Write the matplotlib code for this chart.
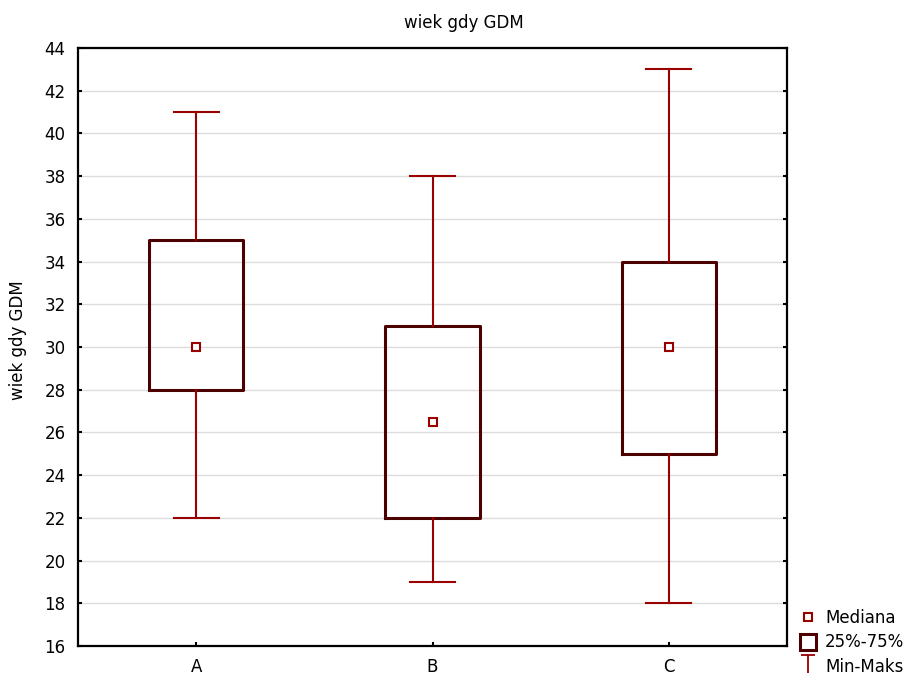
import matplotlib
matplotlib.use("Agg")
import matplotlib.pyplot as plt
from matplotlib.lines import Line2D
from matplotlib.path import Path

plt.rcParams['font.family'] = ['DejaVu Sans']

# dane
grupy = ['A', 'B', 'C']
minima = [22, 19, 18]
q1 = [28, 22, 25]
mediany = [30, 26.5, 30]
q3 = [35, 31, 34]
maksima = [41, 38, 43]

kolor_pudla = '#4d0000'
kolor_wasow = '#990000'

W, H = 918, 679
fig = plt.figure(figsize=(W / 100, H / 100), dpi=100)
ax = fig.add_axes([78 / W, 1 - 646 / H, (787 - 78) / W, (646 - 48) / H])

stats = []
for i, g in enumerate(grupy):
    stats.append({'label': g, 'whislo': minima[i], 'q1': q1[i], 'med': mediany[i],
                  'q3': q3[i], 'whishi': maksima[i]})

pozycje = list(range(1, len(grupy) + 1))
ax.bxp(stats, positions=pozycje, widths=0.4, capwidths=0.19, showfliers=False,
       boxprops=dict(color=kolor_pudla, linewidth=2.2),
       whiskerprops=dict(color=kolor_wasow, linewidth=1.5),
       capprops=dict(color=kolor_wasow, linewidth=1.5),
       medianprops=dict(linestyle='none'), zorder=3)
ax.plot(pozycje, mediany, 's', markersize=6, markerfacecolor='white',
        markeredgecolor=kolor_wasow, markeredgewidth=1.5, linestyle='none', zorder=4)

ax.set_xlim(0.5, 3.5)
ax.set_ylim(16, 44)
ax.set_yticks(range(16, 45, 2))
ax.set_xticks(pozycje)
ax.set_xticklabels(grupy)
ax.yaxis.grid(True, color='#dcdcdc', linewidth=1)
ax.set_axisbelow(True)
ax.tick_params(direction='in', length=3, width=1.5, labelsize=12)
ax.tick_params(axis='y', right=True, pad=9)
ax.tick_params(axis='x', pad=9)
for s in ax.spines.values():
    s.set_linewidth(1.6)

fig.text(464 / W, 1 - 23 / H, 'wiek gdy GDM', fontsize=12, ha='center', va='center')
fig.text(18 / W, 1 - 340 / H, 'wiek gdy GDM', fontsize=12, ha='center', va='center',
         rotation=90)

# legenda
t_path = Path([(-0.37, 0.6), (0.37, 0.6), (0, 0.6), (0, -0.4)],
              [Path.MOVETO, Path.LINETO, Path.MOVETO, Path.LINETO])
uchwyty = [
    Line2D([], [], marker='s', markersize=6, markerfacecolor='white',
           markeredgecolor=kolor_wasow, markeredgewidth=1.5, linestyle='none'),
    Line2D([], [], marker='s', markersize=11, markerfacecolor='white',
           markeredgecolor=kolor_pudla, markeredgewidth=2.2, linestyle='none'),
    Line2D([], [], marker=t_path, markersize=16, color=kolor_wasow,
           markeredgewidth=1.3, linestyle='none'),
]
fig.legend(uchwyty, ['Mediana', '25%-75%', 'Min-Maks'], loc='lower left',
           bbox_to_anchor=(800 / W, 3 / H), frameon=False, fontsize=12,
           handlelength=1.0, handletextpad=0.5, labelspacing=0.4,
           borderpad=0, borderaxespad=0)

fig.savefig('out.png', dpi=100)
